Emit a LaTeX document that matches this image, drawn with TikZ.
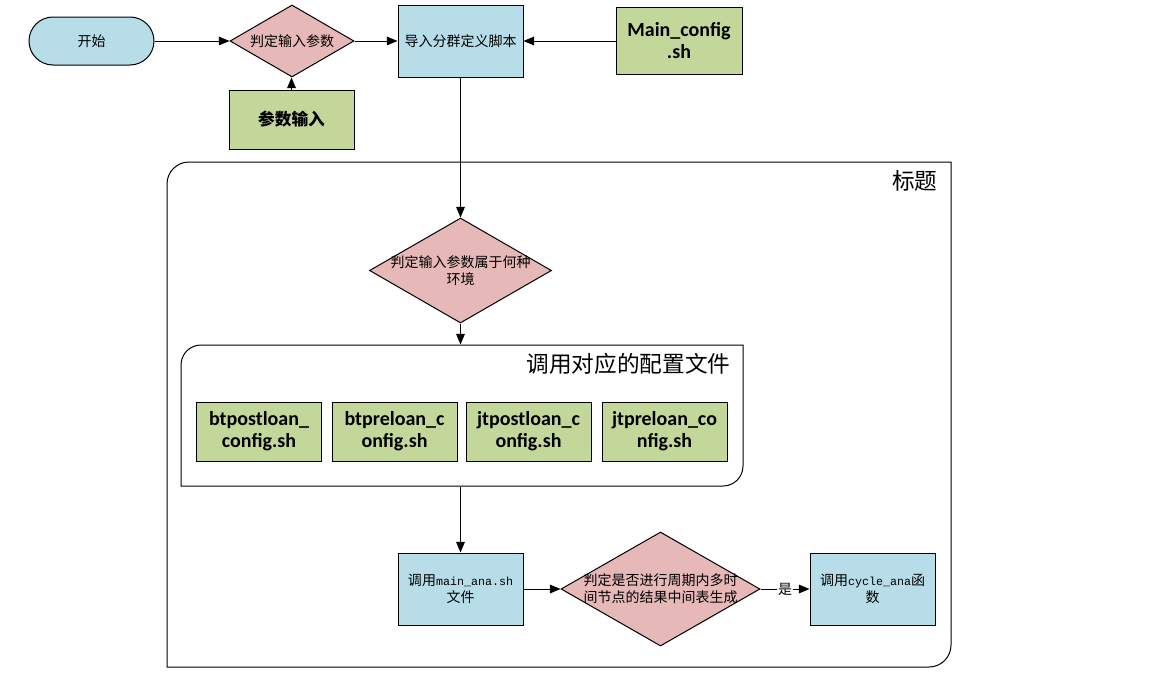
\documentclass[tikz,border=0pt]{standalone}
\usepackage{fontspec}
\setmainfont{Noto Sans CJK SC}
\setmonofont{Liberation Mono}
\newfontfamily\calfont{Carlito}
\usetikzlibrary{arrows.meta,shapes.geometric}
\definecolor{procblue}{HTML}{B7DDE8}
\definecolor{decpink}{HTML}{E6B8B7}
\definecolor{filegreen}{HTML}{C4D79B}

\begin{document}
\begin{tikzpicture}[x=0.75pt,y=-0.75pt,line width=0.75pt,
  shapebox/.style={draw=black, inner sep=0pt, align=center,
    minimum width=93.75pt, minimum height=54pt},
  procbox/.style={shapebox, fill=procblue, font=\fontsize{10.5pt}{12.75pt}\selectfont},
  filebox/.style={shapebox, fill=filegreen, minimum height=44.25pt,
    font=\calfont\bfseries\fontsize{15pt}{16.5pt}\selectfont},
  decide/.style={diamond, draw=black, fill=decpink, inner sep=0pt},
  dectext/.style={align=center, inner sep=0pt, font=\fontsize{10.5pt}{12.75pt}\selectfont},
  arr/.style={-{Triangle[length=8pt,width=6.5pt]}},
  grouptitle/.style={anchor=east, inner sep=0pt, font=\fontsize{17pt}{20pt}\selectfont}
]
\useasboundingbox (0,0) rectangle (1152,678);

% outer group frame: rounded top-left and bottom-right corners
\draw[fill=white] (189,162) -- (951,162) -- (951,645)
  .. controls (951,657.15) and (941.15,667) .. (929,667) -- (167,667) -- (167,184)
  .. controls (167,171.85) and (176.85,162) .. (189,162) -- cycle;
\node[grouptitle] (outertitle) at (938,181) {标题};

% inner group frame holding the config files
\node[minimum width=421.5pt, minimum height=105.75pt, inner sep=0pt] (inner) at (462,415.5) {};
\draw[fill=white] (201,345) -- (743,345) -- (743,466)
  .. controls (743,477.05) and (734.05,486) .. (723,486) -- (181,486) -- (181,365)
  .. controls (181,353.95) and (189.95,345) .. (201,345) -- cycle;
\node[grouptitle] (innertitle) at (731,364) {调用对应的配置文件};

% top row
\node[procbox, rounded corners=18pt, minimum width=93.75pt, minimum height=36pt] (start) at (91.5,41) {开始};
\node[decide, minimum width=93pt, minimum height=54pt] (d1) at (292,41) {};
\node[dectext] (d1text) at (d1.center) {判定输入参数};
\node[filebox, font=\bfseries\fontsize{12.5pt}{15pt}\selectfont] (param) at (291.5,119.5) {参数输入};
\node[procbox] (load) at (460.5,41) {导入分群定义脚本};
\node[filebox, minimum width=94.5pt, minimum height=50.25pt] (mainconf) at (679,41) {Main\_config\\.sh};

% environment decision
\node[decide, minimum width=136.5pt, minimum height=78.75pt] (d2) at (460.5,270.5) {};
\node[dectext] (d2text) at (d2.center) {判定输入参数属于何种\\环境};

% config files
\node[filebox] (cfg1) at (259,431.5) {btpostloan\_\\config.sh};
\node[filebox] (cfg2) at (394.5,431.5) {btpreloan\_c\\onfig.sh};
\node[filebox] (cfg3) at (528.5,431.5) {jtpostloan\_c\\onfig.sh};
\node[filebox] (cfg4) at (664.5,431.5) {jtpreloan\_co\\nfig.sh};

% bottom row
\node[procbox] (ana) at (460.5,589) {调用{\ttfamily\fontsize{8.75pt}{10pt}\selectfont main\_ana.sh}\\文件};
\node[decide, minimum width=149.25pt, minimum height=85.5pt] (d3) at (660.5,589) {};
\node[dectext] (d3text) at (d3.center) {判定是否进行周期内多时\\间节点的结果中间表生成};
\node[procbox] (cycle) at (872.5,589) {调用{\ttfamily\fontsize{8.75pt}{10pt}\selectfont cycle\_ana}函\\数};

% connectors
\draw[arr] (start.east) -- (d1.west);
\draw[arr] (param.north) -- (param.north |- d1.south);
\draw[arr] (d1.east) -- (load.west);
\draw[arr] (mainconf.west) -- (load.east);
\draw[arr] (load.south) -- (load.south |- d2.north);
\draw[arr] (d2.south) -- (d2.south |- inner.north);
\draw[arr] (inner.south -| ana.north) -- (ana.north);
\draw[arr] (ana.east) -- (d3.west);
\draw[arr] (d3.east) -- node[fill=white, inner sep=1pt, font=\fontsize{10.5pt}{12pt}\selectfont] (yes) {是} (cycle.west);
\end{tikzpicture}
\end{document}
